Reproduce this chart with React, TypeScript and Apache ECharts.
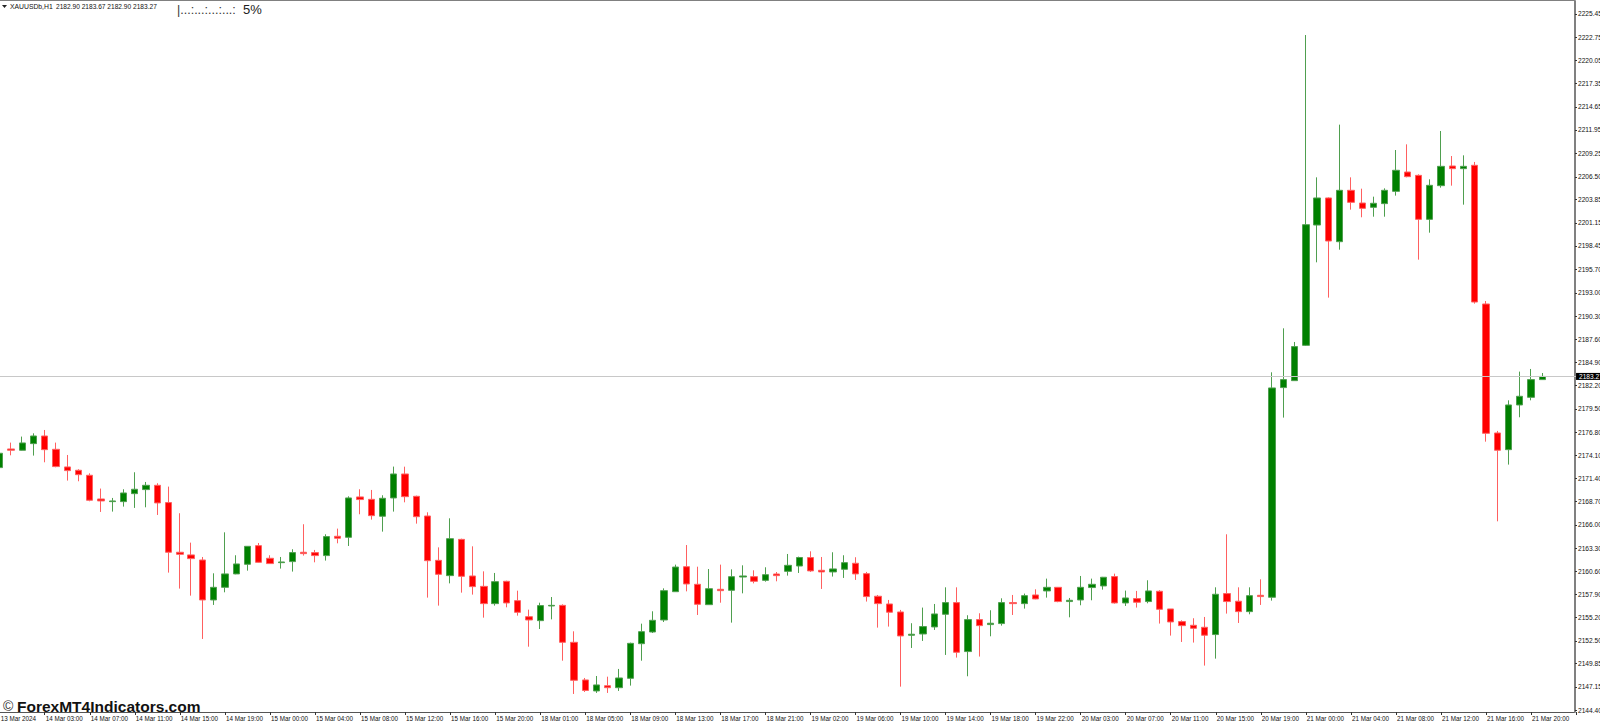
import React, { useEffect, useRef } from 'react';
import * as echarts from 'echarts';

const FONT = '"Liberation Sans", Arial, sans-serif';

const tickLabels = [
  '13 Mar 2024', '14 Mar 03:00', '14 Mar 07:00', '14 Mar 11:00', '14 Mar 15:00', '14 Mar 19:00',
  '15 Mar 00:00', '15 Mar 04:00', '15 Mar 08:00', '15 Mar 12:00', '15 Mar 16:00', '15 Mar 20:00',
  '18 Mar 01:00', '18 Mar 05:00', '18 Mar 09:00', '18 Mar 13:00', '18 Mar 17:00', '18 Mar 21:00',
  '19 Mar 02:00', '19 Mar 06:00', '19 Mar 10:00', '19 Mar 14:00', '19 Mar 18:00', '19 Mar 22:00',
  '20 Mar 03:00', '20 Mar 07:00', '20 Mar 11:00', '20 Mar 15:00', '20 Mar 19:00',
  '21 Mar 00:00', '21 Mar 04:00', '21 Mar 08:00', '21 Mar 12:00', '21 Mar 16:00', '21 Mar 20:00',
];

const priceTicks = [
  2144.40, 2147.15, 2149.85, 2152.50, 2155.20, 2157.90, 2160.60, 2163.30, 2166.00, 2168.70, 2171.40,
  2174.10, 2176.80, 2179.50, 2182.20, 2184.90, 2187.60, 2190.30, 2193.00, 2195.70, 2198.45, 2201.15,
  2203.85, 2206.50, 2209.25, 2211.95, 2214.65, 2217.35, 2220.05, 2222.75, 2225.45,
];

const opens = [
  2172.66, 2174.83, 2174.68, 2175.45, 2176.34, 2174.79, 2172.74, 2172.35, 2171.77, 2169.01,
  2168.70, 2168.70, 2169.63, 2170.10, 2170.60, 2168.59, 2162.81, 2162.50, 2161.91, 2157.26,
  2158.73, 2160.29, 2161.41, 2163.58, 2162.11, 2161.60, 2161.72, 2162.81, 2162.77, 2162.42,
  2164.67, 2164.55, 2169.25, 2168.97, 2167.00, 2169.13, 2171.92, 2169.32, 2167.03, 2161.87,
  2160.09, 2164.31, 2160.05, 2158.84, 2156.83, 2159.43, 2157.18, 2155.31, 2154.85, 2156.56,
  2156.63, 2152.33, 2147.95, 2146.67, 2147.28, 2147.05, 2148.14, 2152.17, 2153.53, 2154.93,
  2158.22, 2161.13, 2159.08, 2156.71, 2158.50, 2158.38, 2159.93, 2159.97, 2159.54, 2160.28,
  2160.59, 2161.21, 2162.19, 2160.71, 2160.52, 2160.83, 2161.53, 2160.32, 2157.69, 2156.79,
  2155.86, 2153.15, 2153.30, 2154.12, 2155.59, 2156.95, 2151.25, 2154.97, 2154.39, 2154.51,
  2156.95, 2156.83, 2157.84, 2158.31, 2158.73, 2157.07, 2157.26, 2158.70, 2158.89, 2159.98,
  2156.91, 2157.42, 2157.07, 2158.27, 2156.21, 2154.74, 2154.31, 2154.08, 2153.23, 2158.00,
  2157.11, 2155.90, 2157.80, 2157.57, 2181.97, 2182.78, 2186.89, 2200.89, 2204.04, 2198.95,
  2204.93, 2203.45, 2202.95, 2203.38, 2204.81, 2207.06, 2206.67, 2201.55, 2205.47, 2207.76,
  2207.45, 2207.84, 2191.70, 2176.69, 2174.75, 2179.95, 2180.84, 2182.90,
];

const closes = [
  2174.33, 2174.68, 2175.53, 2176.34, 2174.75, 2172.78, 2172.31, 2171.84, 2168.86, 2168.78,
  2168.78, 2169.71, 2170.14, 2170.60, 2168.55, 2162.81, 2162.57, 2162.07, 2157.26, 2158.73,
  2160.29, 2161.45, 2163.50, 2161.64, 2161.49, 2161.68, 2162.77, 2162.65, 2162.42, 2164.63,
  2164.44, 2169.13, 2168.94, 2167.07, 2169.09, 2171.92, 2169.28, 2166.95, 2161.83, 2160.24,
  2164.39, 2160.01, 2158.81, 2156.83, 2159.39, 2156.91, 2155.82, 2154.93, 2156.60, 2156.63,
  2152.33, 2147.91, 2146.73, 2147.37, 2147.05, 2148.18, 2152.21, 2153.57, 2154.89, 2158.34,
  2161.09, 2159.12, 2156.75, 2158.57, 2158.34, 2159.97, 2160.05, 2159.43, 2160.20, 2160.09,
  2161.29, 2162.20, 2160.64, 2160.52, 2160.87, 2161.60, 2160.29, 2157.65, 2156.83, 2155.83,
  2153.07, 2153.27, 2154.16, 2155.63, 2156.95, 2151.17, 2154.97, 2154.27, 2154.55, 2156.95,
  2156.83, 2157.76, 2157.38, 2158.73, 2157.07, 2157.22, 2158.73, 2159.08, 2159.90, 2156.91,
  2157.49, 2156.99, 2158.31, 2156.17, 2154.70, 2154.27, 2153.96, 2153.15, 2157.92, 2157.07,
  2155.90, 2157.76, 2157.65, 2181.93, 2182.90, 2186.74, 2200.93, 2204.04, 2199.03, 2204.93,
  2203.53, 2202.83, 2203.42, 2204.93, 2207.26, 2206.52, 2201.55, 2205.51, 2207.72, 2207.45,
  2207.72, 2191.93, 2176.65, 2174.68, 2179.95, 2180.96, 2182.90, 2183.27,
];

const lows = [
  2172.60, 2174.09, 2174.65, 2174.06, 2173.28, 2172.70, 2171.15, 2171.07, 2168.74, 2167.50,
  2167.54, 2168.12, 2167.97, 2168.04, 2167.15, 2160.44, 2158.58, 2157.76, 2152.72, 2156.68,
  2158.15, 2160.25, 2160.67, 2161.60, 2161.45, 2160.91, 2160.56, 2162.42, 2161.64, 2161.84,
  2163.85, 2163.54, 2167.23, 2166.61, 2165.21, 2167.54, 2168.62, 2166.14, 2157.53, 2156.60,
  2159.19, 2158.11, 2157.88, 2155.20, 2156.60, 2156.40, 2155.43, 2151.82, 2153.88, 2155.00,
  2150.19, 2146.32, 2146.55, 2146.44, 2146.44, 2146.67, 2147.29, 2150.19, 2153.41, 2154.69,
  2158.22, 2158.26, 2155.51, 2156.67, 2156.94, 2154.62, 2158.03, 2159.19, 2159.39, 2159.43,
  2160.09, 2160.40, 2160.52, 2158.54, 2159.98, 2159.82, 2159.59, 2157.07, 2154.04, 2154.16,
  2147.17, 2151.67, 2152.49, 2153.77, 2150.86, 2150.55, 2148.38, 2150.67, 2153.03, 2154.27,
  2155.51, 2156.25, 2157.34, 2157.53, 2156.99, 2155.24, 2156.64, 2157.22, 2158.46, 2156.83,
  2156.56, 2156.37, 2156.87, 2154.51, 2153.11, 2152.37, 2152.30, 2149.62, 2150.43, 2155.67,
  2154.58, 2155.59, 2156.68, 2157.18, 2178.48, 2182.78, 2186.82, 2196.55, 2192.44, 2198.02,
  2202.68, 2201.79, 2201.86, 2201.86, 2204.31, 2206.44, 2196.86, 2200.00, 2205.24, 2205.47,
  2203.26, 2191.74, 2175.68, 2166.41, 2173.01, 2178.52, 2180.49, 2182.90,
];

const highs = [
  2174.40, 2175.57, 2176.27, 2176.65, 2177.04, 2175.57, 2174.13, 2172.47, 2172.00, 2170.22,
  2169.13, 2170.14, 2172.12, 2170.99, 2170.84, 2170.45, 2167.35, 2163.93, 2162.26, 2160.36,
  2165.13, 2162.46, 2163.52, 2163.89, 2162.46, 2162.26, 2163.16, 2166.07, 2163.08, 2164.90,
  2165.56, 2169.32, 2170.14, 2170.06, 2169.44, 2172.78, 2172.77, 2169.40, 2167.46, 2163.38,
  2166.76, 2164.39, 2163.50, 2160.59, 2160.40, 2159.50, 2158.34, 2156.13, 2156.94, 2157.60,
  2156.75, 2153.61, 2148.18, 2148.41, 2148.33, 2149.23, 2152.29, 2154.50, 2155.94, 2158.61,
  2161.37, 2163.65, 2161.13, 2160.86, 2161.37, 2160.82, 2161.29, 2160.71, 2161.06, 2160.51,
  2162.61, 2162.30, 2162.92, 2162.26, 2162.81, 2162.46, 2162.23, 2160.52, 2157.84, 2157.26,
  2156.10, 2154.55, 2156.37, 2156.79, 2158.73, 2158.73, 2155.48, 2155.71, 2156.06, 2157.45,
  2157.84, 2158.00, 2158.50, 2159.74, 2158.77, 2157.49, 2160.05, 2159.74, 2159.94, 2160.32,
  2158.35, 2158.31, 2159.55, 2158.39, 2156.21, 2154.89, 2155.13, 2155.28, 2158.73, 2164.90,
  2158.73, 2158.73, 2159.66, 2183.75, 2188.87, 2187.28, 2223.00, 2206.44, 2204.11, 2212.57,
  2206.44, 2205.12, 2204.19, 2205.16, 2209.62, 2210.28, 2206.79, 2206.21, 2211.83, 2208.92,
  2209.00, 2208.23, 2192.05, 2176.93, 2180.49, 2183.83, 2184.14, 2183.67,
];

// the time axis keeps a few empty slots after the last bar
const SLOTS = 141;
const categories = Array.from({ length: SLOTS }, (_, i) => (i % 4 === 0 ? tickLabels[i / 4] ?? '' : ''));
const candles = opens.map((open, i) => [open, closes[i], lows[i], highs[i]]);
const last = opens.length - 1;
const ohlcText = [opens[last], highs[last], lows[last], closes[last]].map((v) => v.toFixed(2)).join(' ');

const GREEN = '#008000';
const RED = '#ff0000';
const FRAME = '#808080';

const App: React.FC = () => {
  const chartRef = useRef<HTMLDivElement | null>(null);

  useEffect(() => {
    if (!chartRef.current) return;

    const chart = echarts.init(chartRef.current, undefined, { renderer: 'svg' });

    chart.setOption({
      animation: false,
      backgroundColor: '#ffffff',
      grid: { left: -5.93, top: 1, width: 1587.66, height: 711, outerBoundsMode: 'none' },
      xAxis: {
        type: 'category',
        data: categories,
        boundaryGap: true,
        axisLine: { show: false },
        axisTick: { show: true, interval: 3, alignWithLabel: true, length: 3, lineStyle: { color: '#333333', width: 1 } },
        axisLabel: {
          interval: 3,
          align: 'left',
          margin: 3,
          padding: [0, 0, 0, 1],
          fontFamily: FONT,
          fontSize: 6.3,
          color: '#111111',
        },
        splitLine: { show: false },
      },
      yAxis: {
        type: 'value',
        position: 'right',
        offset: -6.73,
        scale: true,
        min: 2144.22,
        max: 2226.96,
        axisLine: { show: true, lineStyle: { color: FRAME, width: 2 } },
        axisTick: { show: true, customValues: priceTicks, length: 2, lineStyle: { color: '#333333', width: 1 } },
        axisLabel: {
          customValues: priceTicks,
          margin: 3,
          fontFamily: FONT,
          fontSize: 6.6,
          color: '#111111',
          formatter: (value: number) => value.toFixed(2),
        },
        splitLine: { show: false },
      },
      series: [
        {
          type: 'candlestick',
          data: candles,
          barWidth: 6.8,
          itemStyle: {
            color: GREEN,
            color0: RED,
            borderColor: '#4f9f4f',
            borderColor0: '#ff6060',
            borderWidth: 1,
          },
          markLine: {
            silent: true,
            symbol: 'none',
            data: [{ yAxis: closes[last] }],
            lineStyle: { color: '#c8c8c8', width: 1, type: 'solid' },
            label: {
              position: 'end',
              distance: -5.7,
              align: 'left',
              formatter: closes[last].toFixed(2),
              backgroundColor: '#000000',
              color: '#ffffff',
              fontFamily: FONT,
              fontSize: 6.6,
              padding: [0, 2, 0, 3],
            },
          },
        },
      ],
      graphic: [
        { type: 'line', shape: { x1: 0, y1: 0.5, x2: 1575, y2: 0.5 }, style: { stroke: FRAME, lineWidth: 1 } },
        { type: 'line', shape: { x1: 0, y1: 712.5, x2: 1575, y2: 712.5 }, style: { stroke: '#555555', lineWidth: 1 } },
        { type: 'polygon', shape: { points: [[2, 5], [7, 5], [4.5, 8]] }, style: { fill: '#222222' } },
        {
          type: 'text',
          x: 10,
          y: 3,
          style: { text: 'XAUUSDb,H1', fontFamily: FONT, fontSize: 6.8, fill: '#111111' },
        },
        {
          type: 'text',
          x: 56,
          y: 3,
          style: { text: ohlcText, fontFamily: FONT, fontSize: 6.6, fill: '#111111' },
        },
        {
          type: 'text',
          x: 177,
          y: 3,
          style: { text: '|...:...:...:...:', fontFamily: FONT, fontSize: 12.5, fill: '#333333' },
        },
        {
          type: 'text',
          x: 243,
          y: 3,
          style: { text: '5%', fontFamily: FONT, fontSize: 13, fill: '#222222' },
        },
        {
          type: 'text',
          x: 3,
          y: 699,
          style: { text: '©', fontFamily: FONT, fontSize: 14, fill: '#333333' },
        },
        {
          type: 'text',
          x: 17,
          y: 698,
          style: { text: 'ForexMT4Indicators.com', fontFamily: FONT, fontWeight: 'bold', fontSize: 15.5, fill: '#111111' },
        },
      ],
    });

    return () => {
      chart.dispose();
    };
  }, []);

  return (
    <div
      ref={chartRef}
      style={{ position: 'absolute', left: 0, top: 0, width: 1600, height: 723, overflow: 'hidden', background: '#fff' }}
    />
  );
};

export default App;
